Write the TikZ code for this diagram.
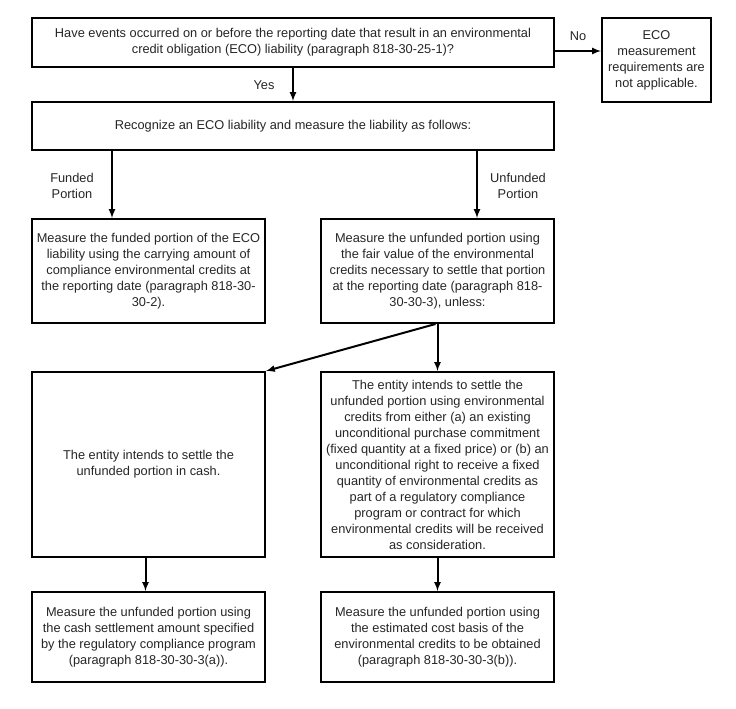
\documentclass[tikz,border=0pt]{standalone}
\usepackage{fontspec}
\setmainfont{Liberation Sans}
\usepackage{tikz}
\usetikzlibrary{positioning,shapes,arrows}

\begin{document}
\begin{tikzpicture}[x=1pt,y=-1pt,
  box/.style={draw,line width=2,inner sep=0pt,align=center,text=black!85,font=\fontsize{12.8}{16}\selectfont},
  lbl/.style={align=center,text=black!85,font=\fontsize{12.8}{16}\selectfont},
  arr/.style={-latex,line width=2}]
\fill[white] (0,0) rectangle (736,709);
\useasboundingbox (0,0) rectangle (736,709);
\node[box,minimum width=522,minimum height=49] (q) at (293,42.5) {Have events occurred on or before the reporting date that result in an environmental\\credit obligation (ECO) liability (paragraph 818-30-25-1)?};
\node[box,minimum width=109,minimum height=84] (eco) at (656.5,60) {ECO\\measurement\\requirements are\\not applicable.};
\node[box,minimum width=522,minimum height=48] (rec) at (293,126) {Recognize an ECO liability and measure the liability as follows:};
\node[box,minimum width=233,minimum height=104] (fund) at (148.5,271) {Measure the funded portion of the ECO\\liability using the carrying amount of\\compliance environmental credits at\\the reporting date (paragraph 818-30-\\30-2).};
\node[box,minimum width=233,minimum height=104] (unf) at (437.5,271) {Measure the unfunded portion using\\the fair value of the environmental\\credits necessary to settle that portion\\at the reporting date (paragraph 818-\\30-30-3), unless:};
\node[box,minimum width=233,minimum height=185] (cash) at (148.5,464.5) {The entity intends to settle the\\unfunded portion in cash.};
\node[box,minimum width=233,minimum height=185] (cred) at (437.5,464.5) {The entity intends to settle the\\unfunded portion using environmental\\credits from either (a) an existing\\unconditional purchase commitment\\(fixed quantity at a fixed price) or (b) an\\unconditional right to receive a fixed\\quantity of environmental credits as\\part of a regulatory compliance\\program or contract for which\\environmental credits will be received\\as consideration.};
\node[box,minimum width=233,minimum height=90] (mcash) at (148.5,637) {Measure the unfunded portion using\\the cash settlement amount specified\\by the regulatory compliance program\\(paragraph 818-30-30-3(a)).};
\node[box,minimum width=233,minimum height=90] (mcred) at (437.5,637) {Measure the unfunded portion using\\the estimated cost basis of the\\environmental credits to be obtained\\(paragraph 818-30-30-3(b)).};
\node[lbl] (no) at (578,36) {No};
\node[lbl] (yes) at (264,85) {Yes};
\node[lbl] (funded) at (72,185.5) {Funded\\Portion};
\node[lbl] (unfunded) at (518,185.5) {Unfunded\\Portion};
\draw[arr] ([yshift=-8.5]q.east) -- ([yshift=-8.5]q.east -| eco.west);
\draw[arr] (q.south) -- (rec.north);
\draw[arr] (rec.south -| 112,0) -- (fund.north -| 112,0);
\draw[arr] (rec.south -| 477,0) -- (unf.north -| 477,0);
\draw[arr] ([xshift=-2]unf.south) -- (cash.north east);
\draw[arr] (unf.south) -- (cred.north);
\draw[arr] ([xshift=-3]cash.south) -- ([xshift=-3]mcash.north);
\draw[arr] (cred.south) -- (mcred.north);
\end{tikzpicture}
\end{document}
